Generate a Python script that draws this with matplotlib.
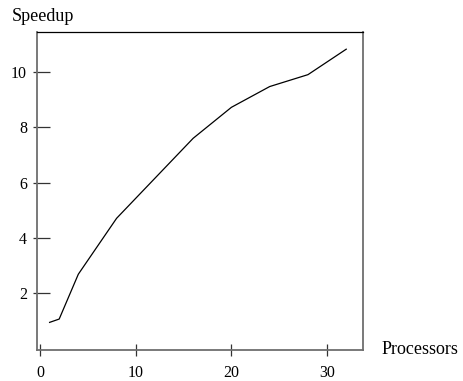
import matplotlib
matplotlib.use("Agg")
import matplotlib.pyplot as plt

# speedup measured per processor count
processors = [1, 2, 4, 8, 16, 20, 24, 28, 32]
speedup = [0.95, 1.07, 2.69, 4.71, 7.60, 8.72, 9.47, 9.90, 10.82]
xticks = [0, 10, 20, 30]
yticks = [2, 4, 6, 8, 10]

plt.rcParams['font.family'] = ['Liberation Serif', 'DejaVu Serif']

fig = plt.figure(figsize=(4.63, 3.81), dpi=100)
W, H = 463, 381
ax = fig.add_axes([36.7 / W, 1 - 349.5 / H, (362.5 - 36.7) / W, (349.5 - 32.3) / H])

ax.plot(processors, speedup, color='black', linewidth=0.9)

ax.set_xlim(-0.35, 33.7)
ax.set_ylim(-0.03, 11.43)
ax.set_xticks(xticks)
ax.set_yticks(yticks)
ax.set_yticks(yticks, minor=True)
ax.yaxis.remove_overlapping_locs = False

for side in ['left', 'bottom', 'right']:
    ax.spines[side].set_color('#6e6e6e')
    ax.spines[side].set_linewidth(1.3)
ax.spines['top'].set_color('black')
ax.spines['top'].set_linewidth(0.9)

ax.tick_params(axis='x', direction='inout', length=8, width=0.9, color='#333333',
               labelsize=11.5, pad=7)
ax.tick_params(axis='y', which='major', direction='in', length=9, width=0.9,
               color='#333333', labelsize=11.5, pad=7)
ax.tick_params(axis='y', which='minor', direction='out', length=3, width=0.9,
               color='#333333', labelleft=False)

fig.text(12 / W, 1 - 21 / H, 'Speedup', fontsize=13, ha='left', va='baseline')
fig.text(382 / W, 1 - 354 / H, 'Processors', fontsize=13, ha='left', va='baseline')

fig.savefig('out.png', dpi=100)
